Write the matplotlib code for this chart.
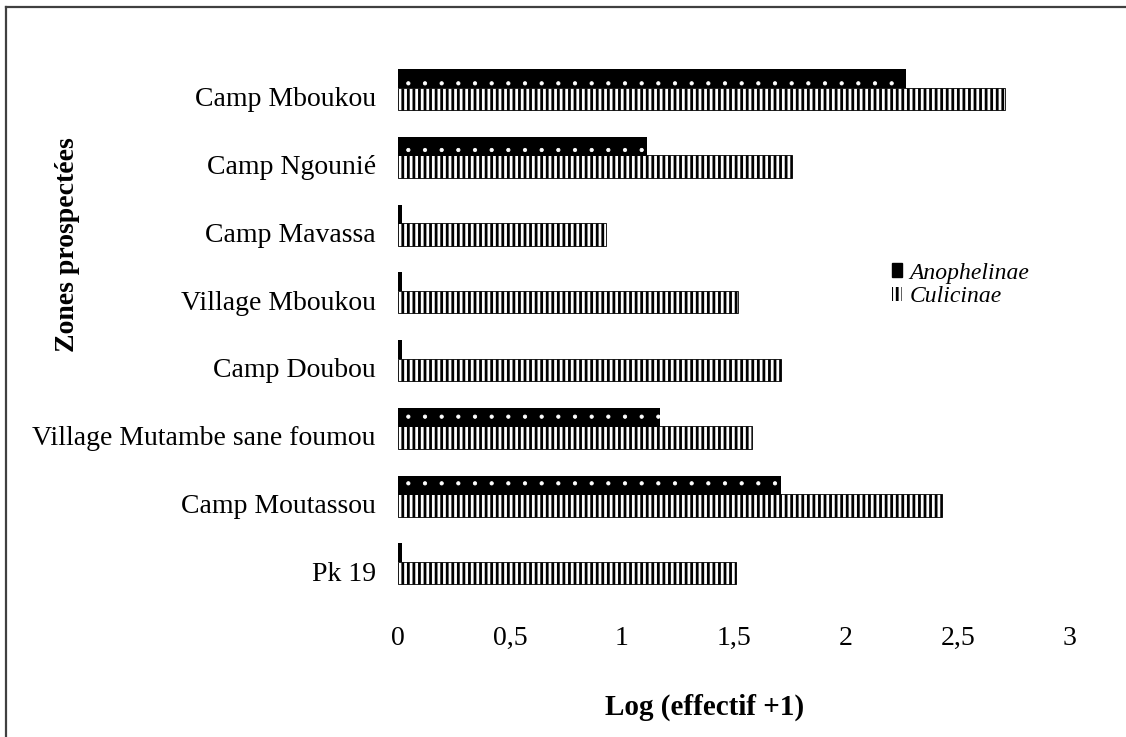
import matplotlib.pyplot as plt
from matplotlib.patches import Patch
from matplotlib.lines import Line2D
import numpy as np

zones = ['Pk 19', 'Camp Moutassou', 'Village Mutambe sane foumou', 'Camp Doubou',
         'Village Mboukou', 'Camp Mavassa', 'Camp Ngounié', 'Camp Mboukou']
anophelinae = [0.02, 1.71, 1.17, 0.02, 0.02, 0.02, 1.11, 2.27]
culicinae = [1.51, 2.43, 1.58, 1.71, 1.52, 0.93, 1.76, 2.71]
xticks = [0, 0.5, 1, 1.5, 2, 2.5, 3]
xticklabels = ['0', '0,5', '1', '1,5', '2', '2,5', '3']

plt.rcParams['font.family'] = 'Liberation Serif'
plt.rcParams['hatch.linewidth'] = 2.0

W, H = 1126, 737
fig = plt.figure(figsize=(W / 100, H / 100), dpi=100)
x0, x3 = 398, 1070
y_top, y_bot = 63, 605
ax = fig.add_axes([x0 / W, 1 - y_bot / H, (x3 - x0) / W, (y_bot - y_top) / H])

y = np.arange(len(zones))

cul = ax.barh(y - 0.03, culicinae, height=0.33, color='white', edgecolor='black',
              hatch='|||', linewidth=0.6, zorder=2)
ano = ax.barh(y + 0.27, anophelinae, height=0.28, color='black', edgecolor='white',
              hatch='.', linewidth=0, zorder=3)
for b in ano:
    if hasattr(b, 'set_hatch_linewidth'):
        b.set_hatch_linewidth(0.6)

ax.set_xlim(0, 3)
ax.set_ylim(-0.5, 7.5)
ax.set_xticks(xticks)
ax.set_xticklabels(xticklabels)
ax.set_yticks(y)
ax.set_yticklabels(zones)
ax.tick_params(axis='both', length=0, labelsize=20)
ax.tick_params(axis='x', pad=15)
ax.tick_params(axis='y', pad=16)
for s in ax.spines.values():
    s.set_visible(False)

handles = [Patch(facecolor='black', edgecolor='black', label='Anophelinae'),
           Patch(facecolor='white', edgecolor='black', linewidth=0, hatch='|||',
                 label='Culicinae')]
ax.legend(handles=handles, loc='center left', bbox_to_anchor=(880 / W, 1 - 285 / H),
          bbox_transform=fig.transFigure, frameon=False,
          prop={'style': 'italic', 'size': 17},
          handlelength=0.45, handleheight=0.55, handletextpad=0.3, labelspacing=0.12,
          borderpad=0)

fig.text(705 / W, 1 - 707 / H, 'Log (effectif +1)', ha='center', va='center',
         fontsize=21, fontweight='bold')
fig.text(68 / W, 1 - 245 / H, 'Zones prospectées', ha='center', va='center',
         rotation=90, fontsize=20, fontweight='bold')

# cadre du graphique
fig.add_artist(Line2D([6 / W, 6 / W], [0, 1 - 7 / H], transform=fig.transFigure,
                      color='#404040', lw=1.6))
fig.add_artist(Line2D([6 / W, 1], [1 - 7 / H, 1 - 7 / H], transform=fig.transFigure,
                      color='#404040', lw=1.6))

fig.savefig('out.png', dpi=100)
